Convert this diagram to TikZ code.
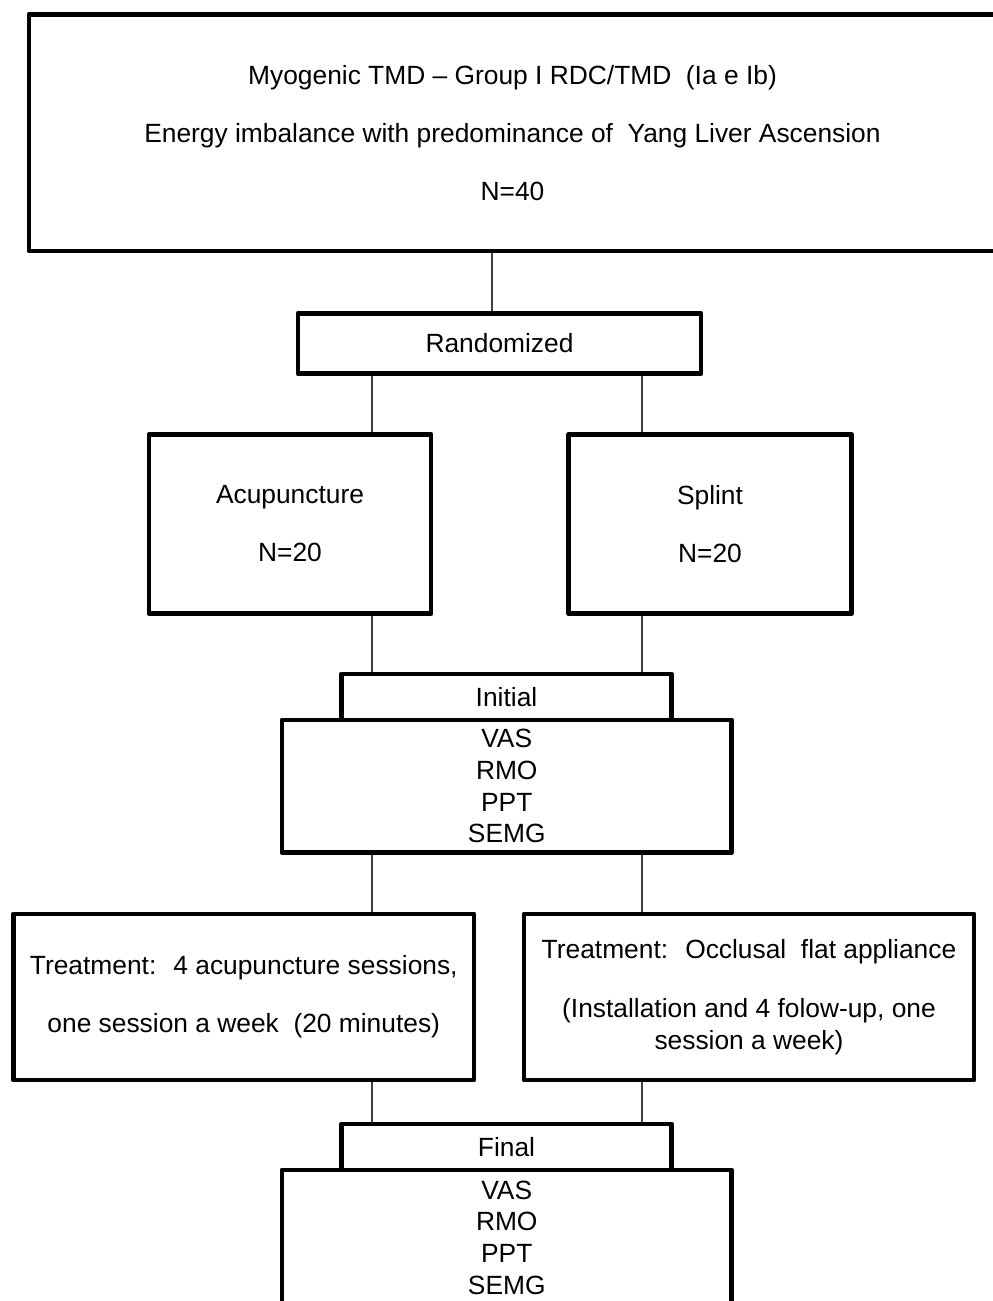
\documentclass[tikz,border=0pt]{standalone}
\usepackage{fontspec}
\setmainfont{Liberation Sans}
\usetikzlibrary{backgrounds}

\tikzset{
  box/.style={draw, line width=2.8pt, line join=round, inner sep=0pt, outer sep=0pt,
    align=center, font=\fontsize{15}{18}\selectfont},
  link/.style={line width=0.8pt, black!75}
}

\begin{document}
\begin{tikzpicture}[x=0.02cm,y=-0.02cm]
                \useasboundingbox (0,0) rectangle (992,1301);
                \foreach \x/\y/\w/\h/\n/\t in {
                  512.5/132.75/967/236.5/top/{Myogenic TMD -- Group I RDC/TMD~ (Ia e Ib)\\[15pt]Energy imbalance with predominance of~ Yang Liver Ascension\\[15pt]N=40},
                  499.5/343.5/403/60/rand/{Randomized},
                  290/524/282/179/acu/{Acupuncture\\[15pt]N=20},
                  710/524/283/179/spl/{Splint\\[15pt]N=20},
                  506.5/697/330/46/init/{Initial},
                  506.75/786.25/449.5/132.5/meas1/{VAS\\RMO\\PPT\\SEMG},
                  243.75/997/460.5/166/trtl/{Treatment:~ 4 acupuncture sessions,\\[15pt]one session a week~ (20 minutes)},
                  749/997/450/166/trtr/{Treatment:~ Occlusal~ flat appliance\\[16pt](Installation and 4 folow-up, one\\session a week)},
                  506.5/1147/330/46/fin/{Final},
                  506.75/1237.5/449.5/135/meas2/{VAS\\RMO\\PPT\\SEMG}}
                \node[box, minimum width=\w*0.02cm, minimum height=\h*0.02cm] (\n) at (\x,\y) {\t};
                \coordinate (colm) at (492,0);
                \coordinate (coll) at (372,0);
                \coordinate (colr) at (642,0);
                \begin{scope}[on background layer]
                \foreach \s/\t/\c in {top/rand/colm, rand/acu/coll, rand/spl/colr, acu/init/coll, spl/init/colr, meas1/trtl/coll, meas1/trtr/colr, trtl/fin/coll, trtr/fin/colr}
                \draw[link] (\s.south -| \c) -- (\t.north -| \c);
                \end{scope}
            \end{tikzpicture}
\end{document}
